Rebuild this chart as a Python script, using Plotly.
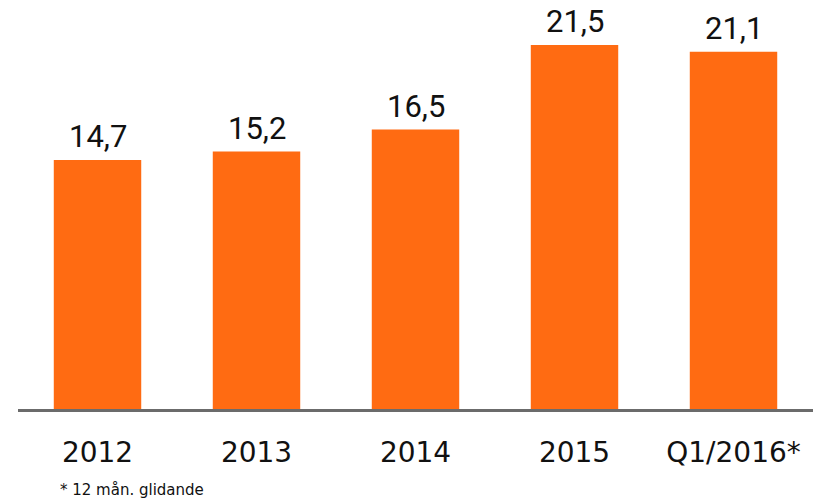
import plotly.graph_objects as go

categories = ["2012", "2013", "2014", "2015", "Q1/2016*"]
values = [14.7, 15.2, 16.5, 21.5, 21.1]
value_labels = ["14,7", "15,2", "16,5", "21,5", "21,1"]
footnote = "* 12 mån. glidande"

BAR = "#FF6B12"
FONT_TICK = "DejaVu Sans, Verdana, sans-serif"
FONT_VAL = "Roboto, Arial, sans-serif"

fig = go.Figure(go.Bar(
    x=categories, y=values,
    marker=dict(color=BAR, line=dict(width=0)),
    hoverinfo="skip",
))

for i, (v, t) in enumerate(zip(values, value_labels)):
    fig.add_annotation(x=i, y=v, text=t, showarrow=False, yanchor="bottom",
                       yshift=3, font=dict(family=FONT_VAL, size=31, color="#111111"))

fig.add_annotation(xref="paper", yref="paper", x=0.05, y=-0.198, xanchor="left", yanchor="middle",
                   text=footnote, showarrow=False,
                   font=dict(family=FONT_TICK, size=15, color="#111111"))

fig.update_layout(
    width=815, height=503,
    margin=dict(l=18, r=2, t=0, b=94),
    plot_bgcolor="white", paper_bgcolor="white",
    bargap=0.45,
    showlegend=False,
)
fig.update_xaxes(type="category", range=[-0.5, len(categories) - 0.5],
                 showline=True, linecolor="#6b6b6b", linewidth=3, ticks="",
                 tickfont=dict(family=FONT_TICK, size=28, color="#111111"),
                 ticklabelstandoff=16, showgrid=False, fixedrange=True)
fig.update_yaxes(range=[0, 24.15], visible=False, showgrid=False, zeroline=False, fixedrange=True)

fig.write_html("out.html", config={"displayModeBar": False},
               post_script="document.body.style.margin='0';")
